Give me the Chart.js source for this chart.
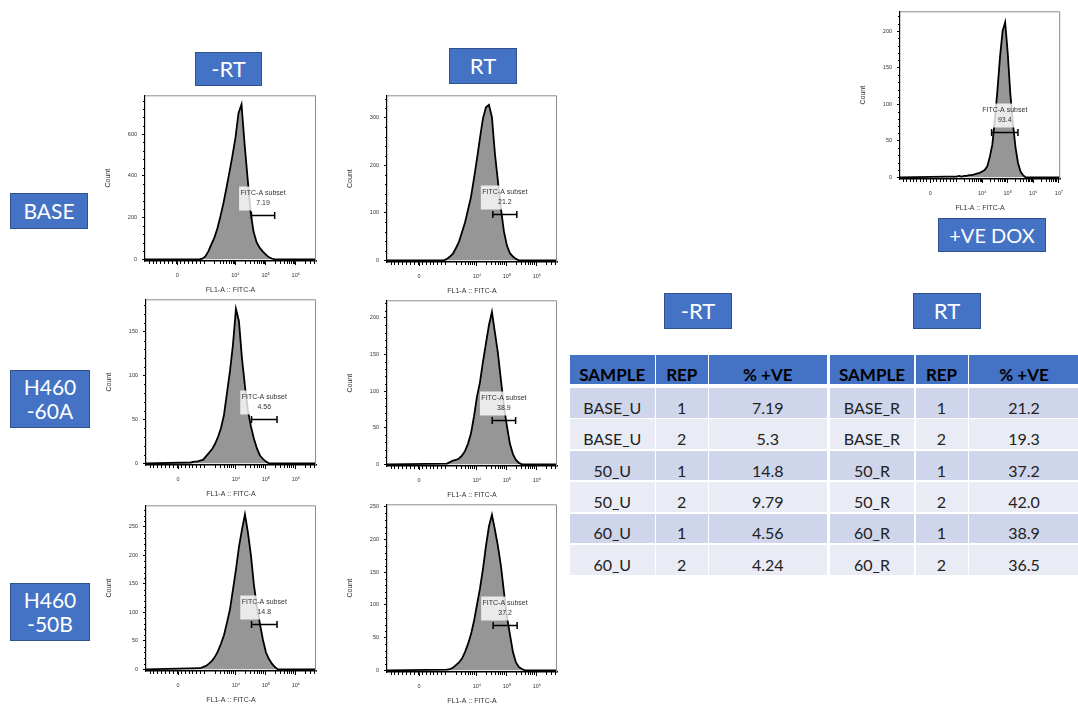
<!DOCTYPE html>
<html>
<head>
<meta charset="utf-8">
<script src="https://cdn.jsdelivr.net/npm/chart.js@4.4.1/dist/chart.umd.min.js"></script>
<style>
html, body { margin: 0; padding: 0; background: #fff; overflow: hidden; }
body { width: 1078px; height: 706px; position: relative; font-family: Lato, "Open Sans", sans-serif; }
.tag { position: absolute; background: #4472C4; border: 1px solid #2F528F; color: #fff; box-sizing: border-box;
       display: flex; align-items: center; justify-content: center; text-align: center; line-height: 1.12; }
.panel { position: absolute; }
.cell { position: absolute; box-sizing: border-box; display: flex; align-items: center; justify-content: center;
        padding-top: 9px; font-size: 16px; color: #222; }
.head { background: #4472C4; font-weight: bold; color: #000; font-size: 17px; }
</style>
</head>
<body>

<div class="tag" style="left:195px;top:52px;width:67px;height:34px;font-size:22px;">-RT</div>
<div class="tag" style="left:449px;top:48px;width:68px;height:36px;font-size:22px;">RT</div>
<div class="tag" style="left:10px;top:193px;width:78px;height:36px;font-size:21px;">BASE</div>
<div class="tag" style="left:10px;top:370px;width:80px;height:58px;font-size:21px;">H460<br>-60A</div>
<div class="tag" style="left:10px;top:583px;width:80px;height:58px;font-size:21px;">H460<br>-50B</div>
<div class="tag" style="left:938px;top:218px;width:108px;height:34px;font-size:20px;">+VE DOX</div>
<div class="tag" style="left:664px;top:293px;width:68px;height:36px;font-size:22px;">-RT</div>
<div class="tag" style="left:913px;top:293px;width:68px;height:36px;font-size:22px;">RT</div>

<div id="tables"></div>

<script>
// ---- histogram data (FL1-A :: FITC-A, display units: 4 = 10^4) ----
const binStep = 0.1;
const binStarts = [2.8, 2.9, 2.5, 3.0, 2.8, 3.0, 2.6];

const countsBaseU = [0, 3, 14, 38, 72, 104, 148, 206, 268, 342, 418, 497, 583, 700, 742, 556, 392, 228, 132, 82, 56, 38, 24, 11, 4, 0];
const countsBaseR = [0, 3, 8, 14, 26, 39, 59, 79, 106, 133, 172, 213, 257, 298, 322, 327, 301, 224, 166, 108, 61, 31, 15, 8, 3, 0];
const counts60U = [1, 2, 2, 3, 4, 8, 12, 16, 22, 30, 40, 55, 80, 105, 135, 176, 162, 120, 88, 60, 42, 28, 17, 9, 5, 2, 0];
const counts60R = [1, 3, 5, 6, 8, 12, 18, 28, 42, 65, 92, 112, 140, 165, 190, 208, 180, 152, 115, 80, 52, 28, 14, 6, 2, 0];
const counts50U = [2, 4, 6, 10, 15, 22, 32, 45, 60, 82, 105, 140, 175, 215, 245, 272, 240, 200, 148, 110, 80, 52, 30, 18, 10, 4, 0];
const counts50R = [1, 2, 4, 8, 12, 18, 28, 40, 55, 75, 100, 125, 155, 190, 220, 238, 215, 190, 160, 120, 82, 55, 28, 12, 5, 2, 0];
const countsDox = [1, 1, 1, 1, 1, 2, 1, 2, 2, 3, 3, 4, 5, 6, 8, 10, 15, 28, 45, 80, 120, 165, 200, 212, 170, 115, 75, 42, 20, 8, 3, 0];
const panelCounts = [countsBaseU, countsBaseR, counts60U, counts60R, counts50U, counts50R, countsDox];

// gates
const gateFrom = [4.53, 4.53, 4.52, 4.51, 4.52, 4.54, 4.37];
const gateTo = [5.30, 5.33, 5.37, 5.29, 5.37, 5.34, 5.40];
const gateLevel = [214, 98, 51, 61, 79, 70, 62];
const gatePercent = ['7.19', '21.2', '4.56', '38.9', '14.8', '37.2', '93.4'];

// axes
const yMaxes = [786, 347, 187, 224, 288, 254, 227];
const yTickSets = [
    [0, 200, 400, 600],
    [0, 100, 200, 300],
    [0, 50, 100, 150],
    [0, 50, 100, 150, 200],
    [0, 50, 100, 150, 200, 250],
    [0, 50, 100, 150, 200, 250],
    [0, 50, 100, 150, 200]
];
const xMins = [1.0, 1.0, 1.0, 1.0, 1.0, 1.0, 0.79];
const xMaxs = [6.67, 6.67, 6.67, 6.67, 6.67, 6.67, 7.05];
const xZeros = [2.07, 2.07, 2.07, 2.07, 2.07, 2.07, 1.97];
const xDecades = [4, 5, 6, 7];
const xDecadeLabels = ['10\u2074', '10\u2075', '10\u2076', '10\u2077'];

// table data
const sampleMinusRT = ['BASE_U', 'BASE_U', '50_U', '50_U', '60_U', '60_U'];
const repMinusRT = [1, 2, 1, 2, 1, 2];
const pctMinusRT = ['7.19', '5.3', '14.8', '9.79', '4.56', '4.24'];
const samplePlusRT = ['BASE_R', 'BASE_R', '50_R', '50_R', '60_R', '60_R'];
const repPlusRT = [1, 2, 1, 2, 1, 2];
const pctPlusRT = ['21.2', '19.3', '37.2', '42.0', '38.9', '36.5'];

// panel frames on the page (left, top, right, axis line)
const panelBoxes = [
    { l: 145, t: 91, r: 316, b: 261 },
    { l: 387, t: 91, r: 557, b: 262 },
    { l: 146, t: 295, r: 316, b: 465 },
    { l: 387, t: 296, r: 557, b: 466 },
    { l: 146, t: 501, r: 316, b: 671 },
    { l: 387, t: 500, r: 557, b: 672 },
    { l: 900, t: 7, r: 1064, b: 179 }
];

const tickFont = { family: '"Liberation Sans", Arial, sans-serif', size: 5.5 };
const titleFont = { family: '"Liberation Sans", Arial, sans-serif', size: 7 };

// top/right frame in gray
const framePlugin = {
    id: 'frame',
    afterDraw(chart) {
        const { ctx, chartArea: a } = chart;
        ctx.save();
        ctx.strokeStyle = '#8c8c8c';
        ctx.lineWidth = 1;
        ctx.beginPath();
        ctx.moveTo(a.left, a.top + 0.5);
        ctx.lineTo(a.right - 0.5, a.top + 0.5);
        ctx.lineTo(a.right - 0.5, a.bottom);
        ctx.stroke();
        ctx.restore();
    }
};

// small ticks between the labelled ones
const minorTicks = {
    id: 'minorTicks',
    afterDraw(chart, args, opts) {
        const { ctx, chartArea: a, scales: { x, y } } = chart;
        ctx.save();
        ctx.strokeStyle = '#000';
        ctx.lineWidth = 1;
        ctx.beginPath();
        opts.xs.forEach(v => {
            const px = Math.round(x.getPixelForValue(v)) + 0.5;
            if (px <= a.left || px >= a.right) return;
            ctx.moveTo(px, a.bottom);
            ctx.lineTo(px, a.bottom + 3);
        });
        opts.ys.forEach(v => {
            const py = Math.round(y.getPixelForValue(v)) + 0.5;
            if (py <= a.top) return;
            ctx.moveTo(a.left, py);
            ctx.lineTo(a.left - 2, py);
        });
        ctx.stroke();
        ctx.restore();
    }
};

// gate bracket and its label
const gatePlugin = {
    id: 'gate',
    afterDatasetsDraw(chart, args, o) {
        const { ctx, scales: { x, y } } = chart;
        const x0 = x.getPixelForValue(o.from);
        const x1 = x.getPixelForValue(o.to);
        const py = Math.round(y.getPixelForValue(o.level)) + 0.5;
        const mid = (x0 + x1) / 2;
        ctx.save();
        ctx.fillStyle = 'rgba(255,255,255,0.8)';
        ctx.fillRect(mid - 24, py - 29, 48, 24);
        ctx.fillStyle = '#333';
        ctx.font = '7px "Liberation Sans", Arial, sans-serif';
        ctx.textAlign = 'center';
        ctx.textBaseline = 'middle';
        ctx.fillText('FITC-A subset', mid, py - 22);
        ctx.fillText(o.label, mid, py - 12);
        ctx.strokeStyle = '#000';
        ctx.lineWidth = 1.5;
        ctx.beginPath();
        ctx.moveTo(x0, py); ctx.lineTo(x1, py);
        ctx.moveTo(x0, py - 3.5); ctx.lineTo(x0, py + 3.5);
        ctx.moveTo(x1, py - 3.5); ctx.lineTo(x1, py + 3.5);
        ctx.stroke();
        ctx.restore();
    }
};

function xMinorList(lo, hi) {
    const out = [];
    for (let v = lo + 0.12; v < 3; v += 0.13) out.push(v);
    for (let d = 3; d < hi; d++) {
        for (let k = 2; k < 10; k++) out.push(d + Math.log10(k));
    }
    return out;
}

function yMinorList(ticks, max) {
    const step = (ticks[1] - ticks[0]) / 5;
    const out = [];
    for (let v = step; v < max; v += step) {
        if (!ticks.includes(Math.round(v))) out.push(v);
    }
    return out;
}

function makePanel(i) {
    const box = panelBoxes[i];
    const yAxisW = 42, xAxisH = 40, padTop = 4, padRight = 6;
    const cv = document.createElement('canvas');
    cv.className = 'panel';
    cv.width = box.r - box.l + yAxisW + padRight;
    cv.height = box.b - box.t + padTop + xAxisH;
    cv.style.left = (box.l - yAxisW) + 'px';
    cv.style.top = (box.t - padTop) + 'px';
    document.body.appendChild(cv);

    const pts = [{ x: xMins[i], y: 0 }];
    panelCounts[i].forEach((c, k) => pts.push({ x: binStarts[i] + k * binStep, y: c }));
    pts.push({ x: xMaxs[i], y: 0 });

    const xVals = [xZeros[i]].concat(xDecades.filter(d => d < xMaxs[i]));
    const xLabels = ['0'].concat(xDecadeLabels.slice(0, xVals.length - 1));
    const yMax = yMaxes[i];

    new Chart(cv, {
        type: 'line',
        data: {
            datasets: [{
                data: pts,
                fill: 'origin',
                backgroundColor: '#969696',
                borderColor: '#000',
                borderWidth: 1.8,
                pointRadius: 0,
                tension: 0
            }]
        },
        options: {
            responsive: false,
            animation: false,
            events: [],
            layout: { padding: { top: padTop, right: padRight, left: 0, bottom: 0 } },
            plugins: {
                legend: { display: false },
                tooltip: { enabled: false },
                minorTicks: { xs: xMinorList(xMins[i], xMaxs[i]), ys: yMinorList(yTickSets[i], yMax) },
                gate: { from: gateFrom[i], to: gateTo[i], level: gateLevel[i], label: gatePercent[i] }
            },
            scales: {
                x: {
                    type: 'linear',
                    min: xMins[i],
                    max: xMaxs[i],
                    afterBuildTicks: s => { s.ticks = xVals.map(v => ({ value: v })); },
                    afterFit: s => { s.height = xAxisH; },
                    ticks: {
                        autoSkip: false, maxRotation: 0, padding: 7,
                        font: tickFont, color: '#333',
                        callback: (v, idx) => xLabels[idx]
                    },
                    grid: { drawOnChartArea: false, drawTicks: true, tickLength: 4, tickColor: '#000', tickWidth: 1 },
                    border: { color: '#000', width: 1.5 },
                    title: { display: true, text: 'FL1-A :: FITC-A', font: titleFont, color: '#333', padding: { top: 0, bottom: 7 } }
                },
                y: {
                    min: -yMax * 0.01,
                    max: yMax,
                    afterBuildTicks: s => { s.ticks = yTickSets[i].map(v => ({ value: v })); },
                    afterFit: s => { s.width = yAxisW; },
                    ticks: { padding: 5, font: tickFont, color: '#333' },
                    grid: { drawOnChartArea: false, drawTicks: true, tickLength: 3, tickColor: '#000', tickWidth: 1 },
                    border: { color: '#000', width: 1.2 },
                    title: { display: true, text: 'Count', font: titleFont, color: '#333', padding: { top: 1, bottom: 0 } }
                }
            }
        },
        plugins: [framePlugin, minorTicks, gatePlugin]
    });
}

for (let i = 0; i < panelBoxes.length; i++) makePanel(i);

// ---- tables ----
function buildTable(left, colW, samples, reps, pcts) {
    const host = document.getElementById('tables');
    const heads = ['SAMPLE', 'REP', '% +VE'];
    const colX = [left, left + colW[0] + 1.5, left + colW[0] + colW[1] + 3];
    function cell(x, y, w, h, text, cls, bg) {
        const d = document.createElement('div');
        d.className = 'cell' + (cls ? ' ' + cls : '');
        d.style.left = x + 'px'; d.style.top = y + 'px';
        d.style.width = w + 'px'; d.style.height = h + 'px';
        if (bg) d.style.background = bg;
        d.textContent = text;
        host.appendChild(d);
    }
    heads.forEach((h, c) => cell(colX[c], 355, colW[c], 29, h, 'head'));
    samples.forEach((s, r) => {
        const y = 388 + r * 31.4;
        const bg = r % 2 === 0 ? '#CFD5EA' : '#E9EBF5';
        [s, String(reps[r]), pcts[r]].forEach((t, c) => cell(colX[c], y, colW[c], 29.6, t, '', bg));
    });
}

buildTable(570, [84.5, 51.5, 117.5], sampleMinusRT, repMinusRT, pctMinusRT);
buildTable(830, [84, 52, 110], samplePlusRT, repPlusRT, pctPlusRT);
</script>
</body>
</html>
